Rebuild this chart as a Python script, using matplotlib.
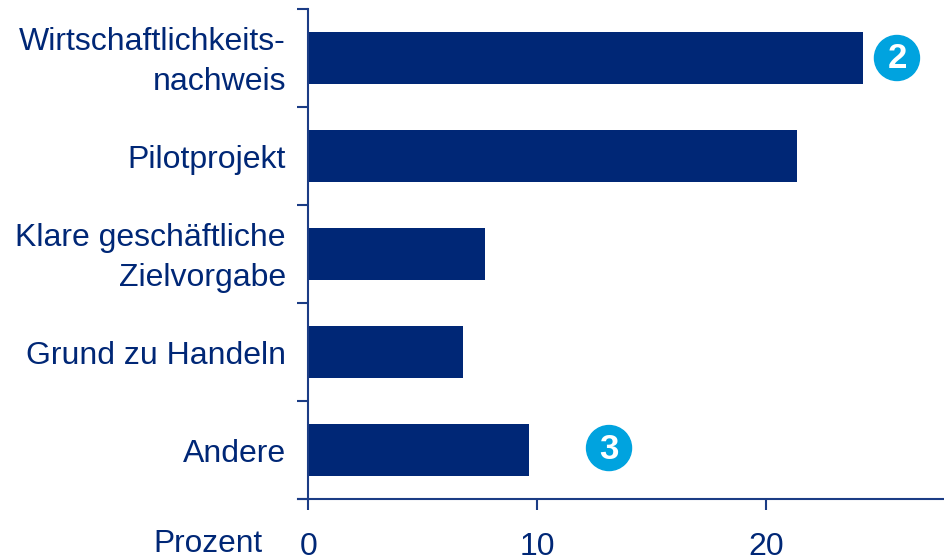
import matplotlib
matplotlib.use('Agg')
import matplotlib.pyplot as plt
from matplotlib.patches import Ellipse

# Data
categories = ['Wirtschaftlichkeits-\nnachweis', 'Pilotprojekt', 'Klare geschäftliche\nZielvorgabe',
              'Grund zu Handeln', 'Andere']
values = [24.25, 21.36, 7.72, 6.76, 9.64]
xticks = [0, 10, 20]
badges = [(25.73, 0, '2'), (13.14, 3.98, '3')]

navy = '#002776'
line_col = '#1B3C85'
badge_blue = '#00A3DF'

plt.rcParams['font.family'] = ['Liberation Sans', 'DejaVu Sans']

W, H = 945, 559
fig = plt.figure(figsize=(W / 100, H / 100), dpi=100)

# axes box in pixels: x 308..945, y 9..499
ax = fig.add_axes([308.5 / W, 1 - 499 / H, (W - 308.5) / W, 490 / H])
ax.barh(range(5), values, height=0.53, color=navy)
ax.set_ylim(4.5, -0.5)
ax.set_xlim(0, 27.83)

for s in ['top', 'right']:
    ax.spines[s].set_visible(False)
for s in ['left', 'bottom']:
    ax.spines[s].set_color(line_col)
    ax.spines[s].set_linewidth(1.5)
ax.spines['bottom'].set_bounds(-0.48, 27.83)

ax.set_xticks(xticks)
ax.set_xticklabels([str(t) for t in xticks], fontsize=23, color=navy)
ax.tick_params(axis='x', length=8, width=1.5, color=line_col, direction='out', pad=15.5)
ax.set_yticks([i + 0.5 for i in range(-1, 5)])
ax.set_yticklabels([])
ax.tick_params(axis='y', length=8, width=1.5, color=line_col, direction='out')

# category labels
for i, c in enumerate(categories):
    ax.annotate(c, xy=(0, i), xycoords=('axes fraction', 'data'), xytext=(-22.5 * 0.72, -3),
                textcoords='offset points', ha='right', va='center', fontsize=23,
                color=navy, linespacing=1.41)

fig.text(263 / W, 1 - 544 / H, 'Prozent', ha='right', va='center', fontsize=22.8, color=navy)

# numbered circles
for x, y, t in badges:
    ax.add_patch(Ellipse((x, y), 45 / 22.87, 45 / 98, color=badge_blue, zorder=5, clip_on=False))
    ax.text(x, y + 0.01, t, ha='center', va='center', fontsize=25, fontweight='bold',
            color='white', zorder=6)

fig.savefig('out.png', dpi=100)
